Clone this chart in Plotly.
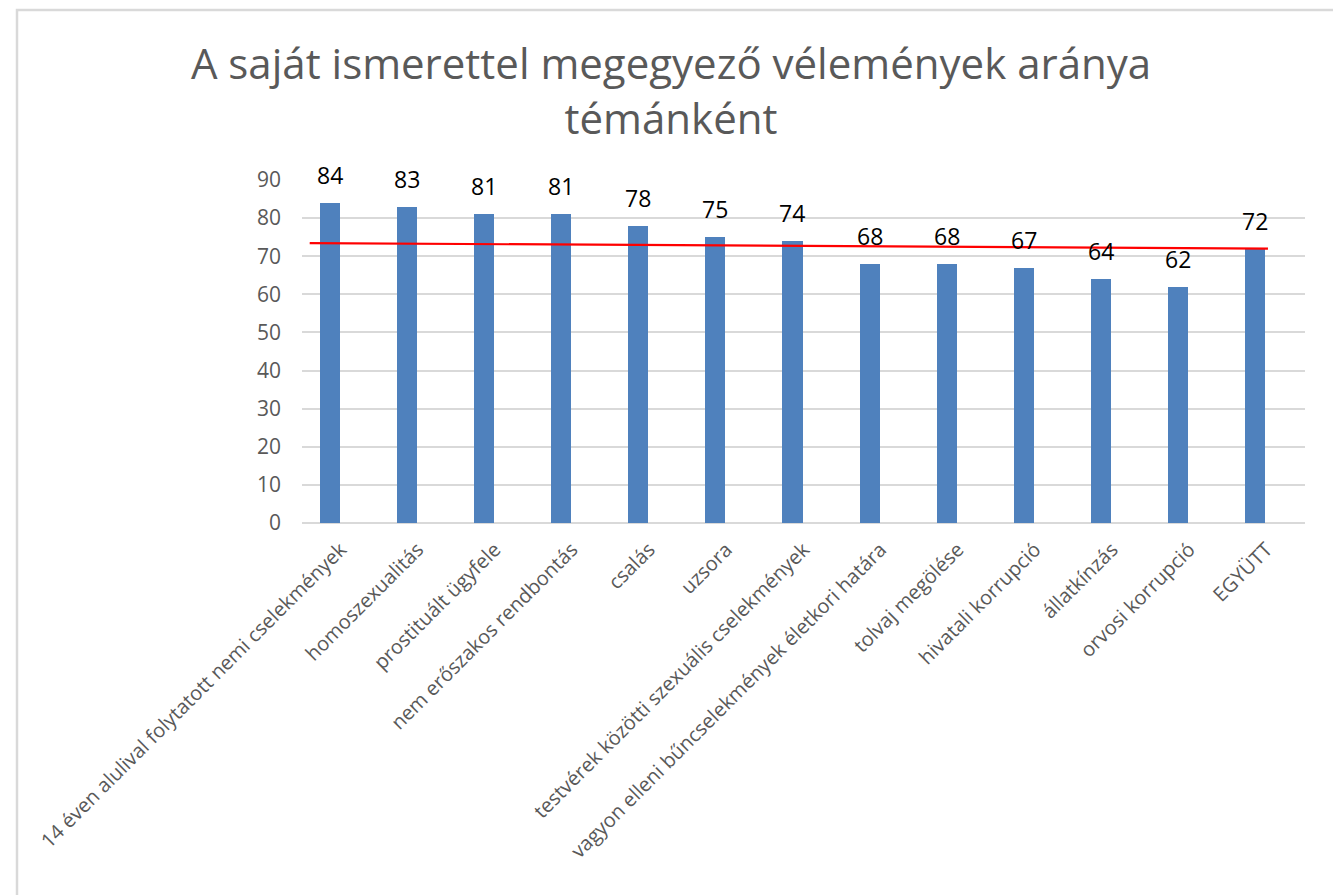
import plotly.graph_objects as go

categories = [
    "14 éven alulival folytatott nemi cselekmények",
    "homoszexualitás",
    "prostituált ügyfele",
    "nem erőszakos rendbontás",
    "csalás",
    "uzsora",
    "testvérek közötti szexuális cselekmények",
    "vagyon elleni bűncselekmények életkori határa",
    "tolvaj megölése",
    "hivatali korrupció",
    "állatkínzás",
    "orvosi korrupció",
    "EGYÜTT",
]
values = [84, 83, 81, 81, 78, 75, 74, 68, 68, 67, 64, 62, 72]

# hand-drawn red reference line (category-index units, value units)
trend_x = [-0.40, 12.02]
trend_y = [73.45, 72.0]

y_ticks = [0, 10, 20, 30, 40, 50, 60, 70, 80, 90]

OFF = 8  # page body margin
W, H = 1341, 895
L, T = 302 - OFF, 180 - OFF
pw, ph = 1003, 343
R, B = W - L - pw, H - T - ph

BAR_W = 0.26
BAR_SHIFT = -0.143  # bars sit left of the category centre (empty 2nd series slot)


def px2x(px):
    return (px - OFF - L) / pw


def py2y(py):
    return (T + ph - (py - OFF)) / ph


FONT = "Open Sans"
GRAY = "#595959"

idx = list(range(len(categories)))
slot_px = pw / len(categories)

fig = go.Figure()
fig.add_trace(go.Bar(
    x=idx, y=values, width=BAR_W, offset=BAR_SHIFT - BAR_W / 2,
    marker=dict(color="#4f81bd", line=dict(width=0)),
    showlegend=False, hoverinfo="x+y",
))
fig.add_trace(go.Scatter(
    x=trend_x, y=trend_y, mode="lines",
    line=dict(color="#ff0000", width=2.2),
    showlegend=False, hoverinfo="skip",
))

for i, v in zip(idx, values):
    fig.add_annotation(
        x=i, y=v, xref="x", yref="y", text=str(v), showarrow=False,
        yanchor="middle", yshift=28, xshift=BAR_SHIFT * slot_px,
        font=dict(family=FONT, size=23, color="#000000"),
    )

# chart frame
fig.add_shape(
    type="rect", xref="paper", yref="paper",
    x0=px2x(17), x1=px2x(1335), y0=py2y(905), y1=py2y(10),
    line=dict(color="#d9d9d9", width=2.5), fillcolor="rgba(0,0,0,0)",
    layer="below",
)

fig.update_layout(
    width=W, height=H,
    margin=dict(l=L, r=R, t=T, b=B, autoexpand=False),
    paper_bgcolor="white", plot_bgcolor="white",
    title=dict(
        text="A saját ismerettel megegyező vélemények aránya<br>témánként",
        x=(671 - OFF) / W, xanchor="center",
        y=1 - 71 / H, yanchor="middle",
        font=dict(family=FONT, size=42, color=GRAY),
    ),
    xaxis=dict(
        tickmode="array", tickvals=idx, ticktext=categories,
        range=[-0.5, len(categories) - 0.5],
        tickangle=-45, showgrid=False, zeroline=False, showline=False,
        ticks="",
        ticklabelstandoff=10,
        tickfont=dict(family=FONT, size=20, color=GRAY),
    ),
    yaxis=dict(
        range=[0, 90], tickmode="array", tickvals=y_ticks,
        showgrid=True, gridcolor="#d9d9d9", gridwidth=1.5,
        zeroline=True, zerolinecolor="#d9d9d9", zerolinewidth=1.5,
        showline=False, ticks="",
        ticklabelstandoff=20,
        tickfont=dict(family=FONT, size=21, color=GRAY),
    ),
    bargap=0,
)

fig.write_html("out.html")
